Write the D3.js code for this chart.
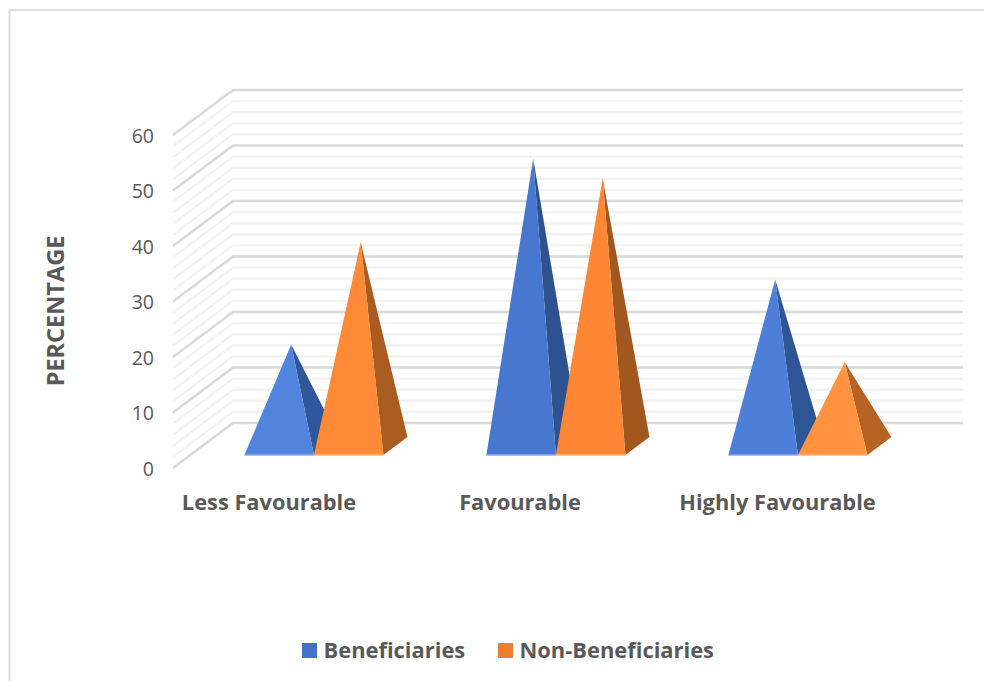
<!DOCTYPE html>
<html>
<head>
<meta charset="utf-8">
<script src="https://cdn.jsdelivr.net/npm/d3@7/dist/d3.min.js"></script>
<style>
html,body{margin:0;padding:0;background:#fff;overflow:hidden}
svg{display:block}
text{font-family:"Open Sans",Lato,sans-serif;fill:#595959;font-variant-ligatures:none}
</style>
</head>
<body>
<svg id="chart" width="984" height="681"></svg>
<script>
const categories = ["Less Favourable", "Favourable", "Highly Favourable"];
const seriesNames = ["Beneficiaries", "Non-Beneficiaries"];
const beneficiaries = [18.3, 51.8, 30];
const nonBeneficiaries = [36.7, 48.2, 15.1];
const majorTicks = [0, 10, 20, 30, 40, 50, 60];
const minorTicks = [2, 4, 6, 8, 12, 14, 16, 18, 22, 24, 26, 28, 32, 34, 36, 38, 42, 44, 46, 48, 52, 54, 56, 58];

const svg = d3.select("#chart");

// Oblique 3D box: a depth of 0 is the front plane, 1 the back wall.
const depthDx = 60, depthDy = -45;
const y = d3.scaleLinear().domain([0, 60]).range([468, 135]);
const x0 = d3.scaleBand().domain(categories).range([175.6, 901.6]);
const x1 = d3.scaleBand().domain(seriesNames).range([0, 139]);
const groupInset = (x0.bandwidth() - x1.range()[1]) / 2;
const project = (px, value, d) => [px + d * depthDx, y(value) + d * depthDy];

const depthNear = 0.289, depthFar = 0.689;
const colors = d3.scaleOrdinal().domain(seriesNames).range(["#4472c4", "#ed7d31"]);

// Chart frame
svg.append("path").attr("d", "M9.5,681V10H984").attr("fill", "none")
  .attr("stroke", "#dedede").attr("stroke-width", 2);

// Steeper faces catch less light, so shading follows the pyramid's height
const heightShade = d3.scaleLinear().domain([15, 52]);
const faceFill = {
  Beneficiaries: heightShade.copy().range(["#5385df", "#4777ce"]),
  "Non-Beneficiaries": heightShade.copy().range(["#ff9340", "#fd8433"])
};
const sideFill = {
  Beneficiaries: heightShade.copy().range(["#30589c", "#2c5290"]),
  "Non-Beneficiaries": heightShade.copy().range(["#b56222", "#a0561f"])
};
const baseEdge = { Beneficiaries: "#8aabea", "Non-Beneficiaries": "#ffb27a" };

// Side wall and back wall gridlines
const xLeft = 173, xRight = 903;
const wallLine = v => d3.line()([project(xLeft, v, 0), project(xLeft, v, 1), project(xRight, v, 1)]);
const grid = svg.append("g").attr("fill", "none");
grid.selectAll(".minor").data(minorTicks).join("path").attr("class", "minor")
  .attr("d", wallLine).attr("stroke", "#f2f2f2").attr("stroke-width", 2.4);
grid.selectAll(".major").data(majorTicks).join("path").attr("class", "major")
  .attr("d", wallLine).attr("stroke", "#d9d9d9").attr("stroke-width", 2.4);

// Value axis
const yAxis = svg.append("g").attr("transform", "translate(154,0)")
  .call(d3.axisLeft(y).tickValues(majorTicks).tickSize(0).tickPadding(0));
yAxis.select(".domain").remove();
yAxis.selectAll("text").style("font-family", "'Open Sans',sans-serif").style("font-size", "19.5px")
  .attr("fill", "#595959").attr("dy", "0.36em");

svg.append("text").attr("transform", "translate(64,311) rotate(-90)")
  .attr("text-anchor", "middle").style("font-size", "23.5px").style("font-weight", 700)
  .text("PERCENTAGE");

// Pyramids, each pair drawn left to right so the orange one overlaps the blue
const table = categories.flatMap((c, i) => [
  { category: c, series: seriesNames[0], value: beneficiaries[i] },
  { category: c, series: seriesNames[1], value: nonBeneficiaries[i] }
]);
const marks = svg.append("g").selectAll("g").data(table).join("g");
const geometry = d => {
  const left = x0(d.category) + groupInset + x1(d.series);
  const right = left + x1.bandwidth();
  const depthMid = (depthNear + depthFar) / 2;
  const apexBase = project((left + right) / 2, 0, depthMid);
  return {
    fl: project(left, 0, depthNear),
    fr: project(right, 0, depthNear),
    br: project(right, 0, depthFar),
    apex: [apexBase[0], apexBase[1] - (y(0) - y(d.value))]
  };
};
marks.append("path").attr("fill", d => sideFill[d.series](d.value))
  .attr("d", d => { const g = geometry(d); return d3.line()([g.apex, g.fr, g.br]) + "Z"; });
marks.append("path").attr("fill", d => faceFill[d.series](d.value))
  .attr("d", d => { const g = geometry(d); return d3.line()([g.apex, g.fl, g.fr]) + "Z"; });
marks.append("path").attr("fill", "none").attr("stroke-width", 1.5)
  .attr("stroke", d => baseEdge[d.series])
  .attr("d", d => { const g = geometry(d); return d3.line()([g.fl, g.fr]); });

// Category labels
const labelX = d3.scaleOrdinal().domain(categories).range([269, 520, 777.5]);
svg.append("g").selectAll("text").data(categories).join("text")
  .attr("x", d => labelX(d)).attr("y", 510).attr("text-anchor", "middle")
  .style("font-size", "21.8px").style("font-weight", 700).text(d => d);

// Legend
const legendX = d3.scaleOrdinal().domain(seriesNames).range([302, 498]);
const legend = svg.append("g").selectAll("g").data(seriesNames).join("g")
  .attr("transform", d => `translate(${legendX(d)},643)`);
legend.append("rect").attr("width", 15).attr("height", 15).attr("fill", d => colors(d));
legend.append("text").attr("x", 21.5).attr("y", 15)
  .style("font-size", "21.9px").style("font-weight", 700).text(d => d);
</script>
</body>
</html>
